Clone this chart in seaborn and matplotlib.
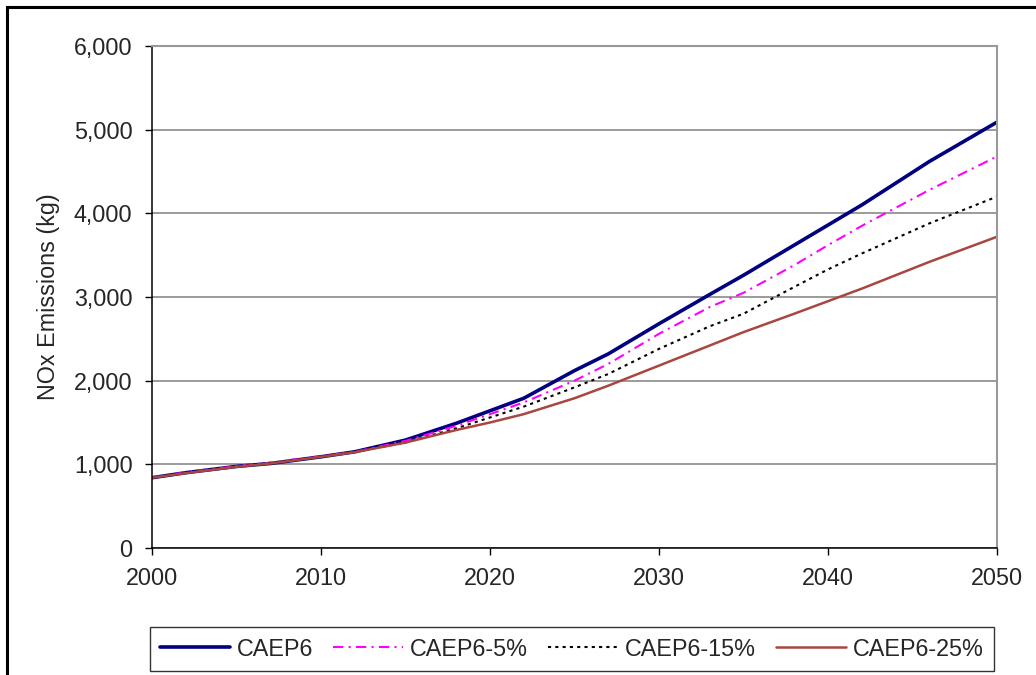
import matplotlib
matplotlib.use("Agg")
import matplotlib.pyplot as plt
import matplotlib.ticker as mticker
from matplotlib.patches import Rectangle
import numpy as np
import pandas as pd
import seaborn as sns

# data
years = [2000, 2002, 2005, 2007, 2010, 2012, 2015, 2018, 2020, 2022,
         2025, 2027, 2030, 2033, 2035, 2038, 2040, 2042, 2046, 2050]
caep6 = [840, 900, 975, 1010, 1090, 1150, 1290, 1490, 1640, 1790,
         2120, 2320, 2680, 3030, 3260, 3620, 3860, 4100, 4620, 5090]
caep6_5 = [840, 905, 980, 1020, 1100, 1150, 1280, 1460, 1600, 1740,
           2000, 2200, 2560, 2880, 3050, 3380, 3620, 3850, 4280, 4680]
caep6_15 = [840, 900, 975, 1015, 1095, 1150, 1260, 1430, 1560, 1690,
            1920, 2080, 2380, 2650, 2800, 3120, 3330, 3520, 3880, 4200]
caep6_25 = [840, 895, 970, 1010, 1090, 1145, 1260, 1410, 1500, 1600,
            1790, 1940, 2180, 2420, 2580, 2800, 2950, 3100, 3420, 3720]
series_names = ["CAEP6", "CAEP6-5%", "CAEP6-15%", "CAEP6-25%"]
y_ticks = [0, 1000, 2000, 3000, 4000, 5000, 6000]
x_ticks = [2000, 2010, 2020, 2030, 2040, 2050]

df = pd.DataFrame({"year": years, "CAEP6": caep6, "CAEP6-5%": caep6_5,
                   "CAEP6-15%": caep6_15, "CAEP6-25%": caep6_25})

sns.set_style("white")
plt.rcParams["font.family"] = ["Liberation Sans", "DejaVu Sans"]

W, H = 1036, 675
fig = plt.figure(figsize=(W / 100, H / 100), dpi=100)
ax = fig.add_axes([152 / W, 1 - 548 / H, (997 - 152) / W, (548 - 46) / H])

styles = {
    "CAEP6": dict(color="#000080", lw=2.6, linestyle="-"),
    "CAEP6-5%": dict(color="#FF00FF", lw=1.5, linestyle=(0, (5, 2.5, 1, 2.5))),
    "CAEP6-15%": dict(color="#000000", lw=1.5, linestyle=(0, (1.5, 2))),
    "CAEP6-25%": dict(color="#A8463F", lw=1.8, linestyle="-"),
}
for name in series_names:
    sns.lineplot(data=df, x="year", y=name, ax=ax, label=name, **styles[name])

ax.set_xlim(2000, 2050)
ax.set_ylim(0, 6000)
ax.set_xticks(x_ticks)
ax.set_yticks(y_ticks)
ax.yaxis.set_major_formatter(mticker.FuncFormatter(lambda v, p: f"{int(v):,}"))
ax.grid(axis="y", color="#808080", lw=1.1)
ax.set_axisbelow(True)
ax.tick_params(axis="both", direction="out", length=5, width=1, color="#000000",
               labelsize=16.8, pad=9, left=True, bottom=True)
ax.set_xlabel("")
ax.set_ylabel("NOx Emissions (kg)", fontsize=16.8, labelpad=10)
for side in ["left", "bottom"]:
    ax.spines[side].set_color("#000000")
    ax.spines[side].set_linewidth(1.1)
for side in ["top", "right"]:
    ax.spines[side].set_color("#999999")
    ax.spines[side].set_linewidth(1.5)

ax.get_legend().remove()
handles, labels = ax.get_legend_handles_labels()
leg = fig.legend(handles, labels, loc="center", bbox_to_anchor=(572 / W, 1 - 649 / H),
                 ncol=4, fontsize=16.8, frameon=True, fancybox=False,
                 edgecolor="#000000", handlelength=3.0, handletextpad=0.3,
                 columnspacing=0.85, borderpad=0.45)
leg.get_frame().set_linewidth(1.0)

# outer chart border (right/bottom run off the picture)
fig.patches.append(Rectangle((7 / W, -0.1), 1.2, 1 - 7 / H + 0.1,
                             transform=fig.transFigure, fill=False,
                             edgecolor="#000000", lw=2.2))

fig.savefig("out.png", dpi=100)
